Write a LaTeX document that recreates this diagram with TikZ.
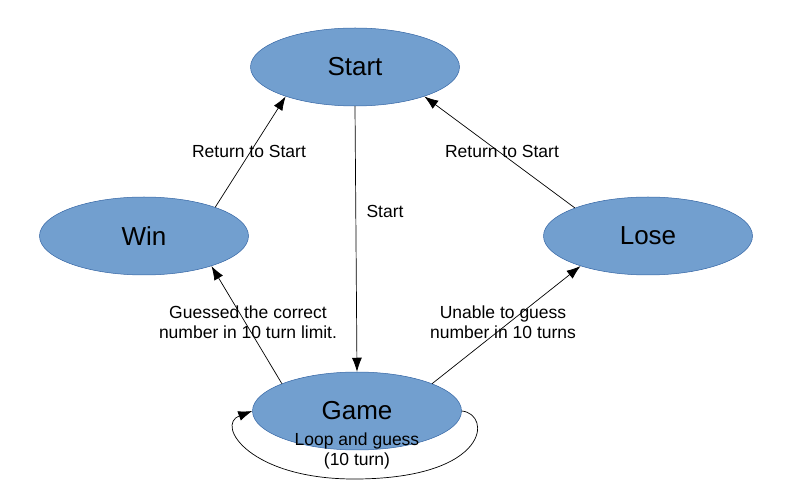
\documentclass[tikz,border=0pt]{standalone}
\usepackage{fontspec}
\setmainfont{Liberation Sans}
\usetikzlibrary{arrows.meta,shapes.geometric}
\definecolor{statefill}{HTML}{729FCF}
\definecolor{stateline}{HTML}{3465A4}

\begin{document}
\begin{tikzpicture}[x=1pt, y=-1pt,
  state/.style={ellipse, fill=statefill, draw=stateline, line width=0.5pt,
    minimum width=209pt, minimum height=78pt, inner sep=0pt,
    font=\fontsize{26}{31}\selectfont},
  edge/.style={-{Latex[length=14pt,width=10pt]}, line width=0.7pt},
  lbl/.style={font=\fontsize{17.5}{20}\selectfont, align=center}]
  \useasboundingbox (0,0) rectangle (790,502);

  % states
  \node[state] (start) at (355,67) {Start};
  \node[state] (win) at (144,236) {Win};
  \node[state] (lose) at (648,236) {Lose};
  \node[state] (game) at (357,411) {Game};

  % transitions
  \draw[edge] (start.south) -- (game.north);
  \draw[edge] (win.22) -- (start.203);
  \draw[edge] (lose.159) -- (start.337);
  \draw[edge] (game.160) -- (win.336);
  \draw[edge] (game.20) -- (lose.204);
  \coordinate (loopbot) at (357,479);
  \draw[edge] (game.east) .. controls (492,414) and (490,478) .. (loopbot)
    .. controls (250,480) and (215,425) .. (game.west);

  % labels
  \node[lbl] (lblstart) at (385,211) {Start};
  \node[lbl] (lblwin) at (249,151) {Return to Start};
  \node[lbl] (lbllose) at (502,151) {Return to Start};
  \node[lbl] (lblguess) at (248,322) {Guessed the correct\\number in 10 turn limit.};
  \node[lbl] (lblfail) at (503,322) {Unable to guess\\number in 10 turns};
  \node[lbl] (lblloop) at (357,451) {Loop and guess\\(10 turn)};
\end{tikzpicture}
\end{document}
